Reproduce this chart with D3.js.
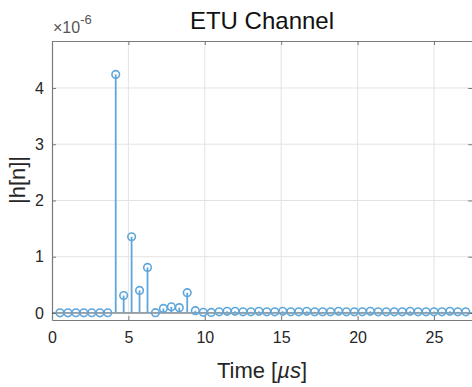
<!DOCTYPE html>
<html>
<head>
<meta charset="utf-8">
<script src="https://cdn.jsdelivr.net/npm/d3@7"></script>
<style>
  body { margin: 0; background: #fff; }
  svg { display: block; font-family: "Liberation Sans", Arial, sans-serif; }
</style>
</head>
<body>
<script>
w = 472;
h = 387;

// sample times (µs) and |h[n]| values (x1e-6)
times = [0.52, 1.04, 1.56, 2.08, 2.60, 3.13, 3.65, 4.17, 4.69, 5.21,
  5.73, 6.25, 6.77, 7.29, 7.81, 8.33, 8.85, 9.38, 9.90, 10.42,
  10.94, 11.46, 11.98, 12.50, 13.02, 13.54, 14.06, 14.58, 15.10, 15.63,
  16.15, 16.67, 17.19, 17.71, 18.23, 18.75, 19.27, 19.79, 20.31, 20.83,
  21.35, 21.88, 22.40, 22.92, 23.44, 23.96, 24.48, 25.00, 25.52, 26.04,
  26.56, 27.08];
mags = [0.003, 0.003, 0.004, 0.003, 0.004, 0.003, 0.004, 4.24, 0.31, 1.355,
  0.40, 0.81, 0.005, 0.08, 0.11, 0.095, 0.36, 0.04, 0.012, 0.01,
  0.02, 0.03, 0.03, 0.02, 0.02, 0.03, 0.02, 0.02, 0.03, 0.02,
  0.02, 0.03, 0.02, 0.02, 0.02, 0.03, 0.02, 0.02, 0.02, 0.03,
  0.02, 0.02, 0.02, 0.02, 0.03, 0.02, 0.02, 0.02, 0.02, 0.03,
  0.02, 0.02];
xTicks = [0, 5, 10, 15, 20, 25];
yTicks = [0, 1, 2, 3, 4];

dataset = times.map((t, i) => [t, mags[i]]);

let x0 = 52, x1 = 472.2, yTop = 41, yBot = 320;
let xScale = d3.scaleLinear().domain([0, 27.5]).range([x0, x1]);
let yScale = d3.scaleLinear().domain([-0.125, 4.835]).range([yBot, yTop]);

svg = d3.select('body')
  .append('svg')
  .attr('width', w)
  .attr('height', h);

// grid
svg.append('g')
  .selectAll('line')
  .data(xTicks.slice(1))
  .enter()
  .append('line')
  .attr('x1', d => xScale(d)).attr('x2', d => xScale(d))
  .attr('y1', yTop).attr('y2', yBot)
  .attr('stroke', '#e3e3e3').attr('stroke-width', 1);
svg.append('g')
  .selectAll('line')
  .data(yTicks)
  .enter()
  .append('line')
  .attr('x1', x0).attr('x2', x1)
  .attr('y1', d => yScale(d)).attr('y2', d => yScale(d))
  .attr('stroke', '#e3e3e3').attr('stroke-width', 1);

// axes (ticks inward)
let axisColor = '#7a7a7a';
let xAxis = d3.axisBottom(xScale).tickValues(xTicks).tickSizeInner(-4).tickSizeOuter(0).tickPadding(12);
let xTop = d3.axisTop(xScale).tickValues(xTicks).tickSizeInner(-4).tickSizeOuter(0).tickFormat('');
let yAxis = d3.axisLeft(yScale).tickValues(yTicks).tickSizeInner(-4).tickSizeOuter(0)
  .tickPadding(8).tickFormat(d3.format('d'));
let yRight = d3.axisRight(yScale).tickValues(yTicks).tickSizeInner(-4).tickSizeOuter(0).tickFormat('');

function styleAxis(g) {
  g.select('.domain').attr('stroke', axisColor).attr('stroke-width', 1.2);
  g.selectAll('.tick line').attr('stroke', axisColor);
  g.selectAll('.tick text').attr('fill', '#262626').attr('font-size', 16)
    .attr('font-family', '"Liberation Sans", Arial, sans-serif');
}
svg.append('g').attr('transform', `translate(0, ${yBot})`).call(xAxis).call(styleAxis);
svg.append('g').attr('transform', `translate(0, ${yTop})`).call(xTop).call(styleAxis);
svg.append('g').attr('transform', `translate(${x0}, 0)`).call(yAxis).call(styleAxis);
svg.append('g').attr('transform', `translate(${x1}, 0)`).call(yRight).call(styleAxis);

// stem baseline
svg.append('line')
  .attr('x1', x0).attr('x2', x1)
  .attr('y1', yScale(0)).attr('y2', yScale(0))
  .attr('stroke', '#555').attr('stroke-width', 1);

let blue = '#5fa6da';
svg.append('g')
  .selectAll('line')
  .data(dataset)
  .enter()
  .append('line')
  .attr('x1', d => xScale(d[0])).attr('x2', d => xScale(d[0]))
  .attr('y1', yScale(0)).attr('y2', d => yScale(d[1]))
  .attr('stroke', blue).attr('stroke-width', 1.8);
svg.append('g')
  .selectAll('circle')
  .data(dataset)
  .enter()
  .append('circle')
  .attr('cx', d => xScale(d[0]))
  .attr('cy', d => yScale(d[1]))
  .attr('r', 3.8)
  .attr('fill', 'none')
  .attr('stroke', blue)
  .attr('stroke-width', 1.6);

// exponent
let ex = svg.append('text')
  .attr('x', 53).attr('y', 33)
  .attr('font-size', 16).attr('fill', '#555');
ex.append('tspan').text('×10');
ex.append('tspan').attr('dy', -9).attr('font-size', 13).text('-6');

// title & labels
svg.append('text')
  .attr('x', 262).attr('y', 29)
  .attr('text-anchor', 'middle')
  .attr('font-size', 24).attr('fill', '#111')
  .text('ETU Channel');

let xl = svg.append('text')
  .attr('x', 262).attr('y', 378)
  .attr('text-anchor', 'middle')
  .attr('font-size', 22).attr('fill', '#262626');
xl.append('tspan').text('Time [');
xl.append('tspan').attr('font-style', 'italic').text('µs');
xl.append('tspan').text(']');

svg.append('text')
  .attr('transform', 'translate(17, 180) rotate(-90)')
  .attr('text-anchor', 'middle')
  .attr('dominant-baseline', 'central')
  .attr('font-size', 22).attr('fill', '#262626')
  .text('|h[n]|');
</script>
</body>
</html>
